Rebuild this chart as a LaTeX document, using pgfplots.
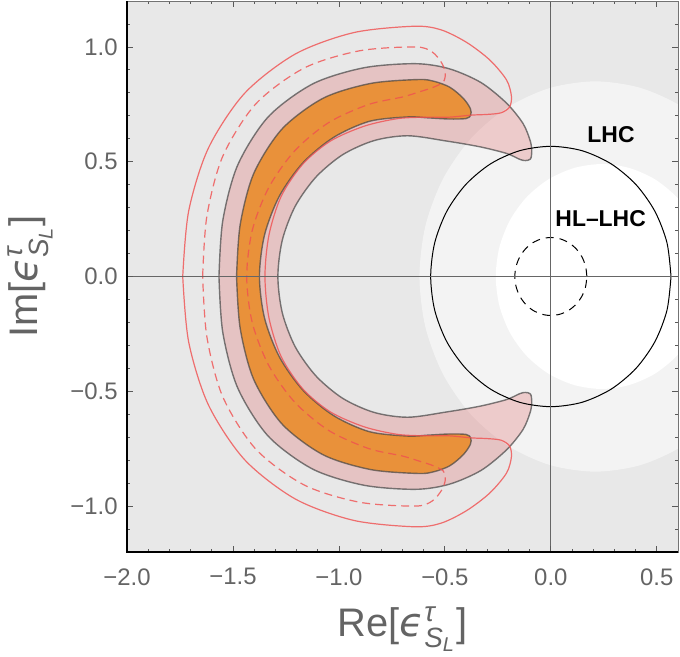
\documentclass[border=0pt]{standalone}
\usepackage{pgfplots}
\pgfplotsset{compat=1.18}
\usepackage{amsmath}
\usepackage{fontspec}
\setmainfont{Liberation Sans}
\newfontfamily\dejavu{DejaVu Sans}

\definecolor{bgout}{RGB}{232,232,232}
\definecolor{bgmid}{RGB}{243,243,243}
\definecolor{pinkband}{RGB}{225,112,112}
\definecolor{orangeband}{RGB}{233,145,58}
\definecolor{edge}{RGB}{70,70,70}
\definecolor{redline}{RGB}{240,80,80}
\definecolor{ticktext}{RGB}{100,100,100}

\newcommand{\eps}{{\dejavu\itshape ϵ}$^{\text{\itshape τ}}_{\text{\itshape S}_{\text{\itshape L}}}$}

\begin{document}
\begin{tikzpicture}
\begin{axis}[
  scale only axis,
  width=275.5bp, height=275.5bp,
  xmin=-2, xmax=0.6, ymin=-1.2, ymax=1.2,
  axis background/.style={fill=bgout},
  axis on top,
  axis line style={draw=black!55, line width=0.4bp},
  tick align=inside,
  major tick length=3bp, minor tick length=1.6bp,
  every tick/.style={draw=black!65, line width=0.4bp},
  xtick={-2,-1.5,-1,-0.5,0,0.5},
  xticklabels={−2.0,−1.5,−1.0,−0.5,0.0,0.5},
  ytick={-1,-0.5,0,0.5,1},
  yticklabels={−1.0,−0.5,0.0,0.5,1.0},
  minor xtick={-1.9,-1.8,-1.7,-1.6,-1.4,-1.3,-1.2,-1.1,-0.9,-0.8,-0.7,-0.6,-0.4,-0.3,-0.2,-0.1,0.1,0.2,0.3,0.4},
  minor ytick={-1.1,-0.9,-0.8,-0.7,-0.6,-0.4,-0.3,-0.2,-0.1,0.1,0.2,0.3,0.4,0.6,0.7,0.8,0.9,1.1},
  ticklabel style={font=\fontsize{12}{14}\selectfont, text=ticktext},
  xticklabel style={anchor=north, inner sep=0pt, yshift=-8bp},
  yticklabel style={anchor=east, inner sep=0pt, xshift=-4.5bp},
  xlabel={Re[\eps]},
  ylabel={Im[\eps]},
  every axis x label/.style={at={(axis description cs:0.5,-0.1525)}, anchor=base,
    font=\fontsize{20}{24}\selectfont, text=ticktext},
  every axis y label/.style={at={(axis description cs:-0.1633,0.5)}, rotate=90, anchor=base,
    font=\fontsize{20}{24}\selectfont, text=ticktext},
]

% lighter sensitivity zones around the origin
\addplot[fill=bgmid, draw=none, smooth] coordinates {
(1.04,0) (1.012,0.22) (0.929,0.425) (0.797,0.601) (0.625,0.736) (0.425,0.821) (0.21,0.85)
(-0.005,0.821) (-0.205,0.736) (-0.377,0.601) (-0.509,0.425) (-0.592,0.22) (-0.62,0)
(-0.592,-0.22) (-0.509,-0.425) (-0.377,-0.601) (-0.205,-0.736) (-0.005,-0.821) (0.21,-0.85)
(0.425,-0.821) (0.625,-0.736) (0.797,-0.601) (0.929,-0.425) (1.012,-0.22) (1.04,0)};
\addplot[fill=white, draw=none, smooth] coordinates {
(0.74,0) (0.723,0.127) (0.673,0.245) (0.594,0.346) (0.49,0.424) (0.369,0.473) (0.24,0.49)
(0.111,0.473) (-0.01,0.424) (-0.114,0.346) (-0.193,0.245) (-0.243,0.127) (-0.26,0)
(-0.243,-0.127) (-0.193,-0.245) (-0.114,-0.346) (-0.01,-0.424) (0.111,-0.473) (0.24,-0.49)
(0.369,-0.473) (0.49,-0.424) (0.594,-0.346) (0.673,-0.245) (0.723,-0.127) (0.74,0)};

% 2 sigma band
\addplot[fill=pinkband, fill opacity=0.3, draw=edge, draw opacity=0.7, line width=0.7bp, smooth] coordinates {
(-1.566,0) (-1.548,0.2435) (-1.478,0.4845) (-1.334,0.695) (-1.1235,0.839) (-0.883,0.909)
(-0.639,0.927) (-0.48,0.905) (-0.33,0.845) (-0.209,0.755) (-0.131,0.666) (-0.097,0.59)
(-0.090,0.545) (-0.096,0.512)
(-0.12,0.505) (-0.146,0.510) (-0.209,0.536) (-0.335,0.565) (-0.492,0.590) (-0.675,0.613)
(-0.834,0.592) (-0.9815,0.531) (-1.108,0.4335) (-1.206,0.3065) (-1.267,0.159) (-1.288,0)
(-1.267,-0.159) (-1.206,-0.3065) (-1.108,-0.4335) (-0.9815,-0.531) (-0.834,-0.592) (-0.675,-0.613)
(-0.492,-0.590) (-0.335,-0.565) (-0.209,-0.536) (-0.146,-0.510) (-0.12,-0.505)
(-0.096,-0.512) (-0.090,-0.545) (-0.097,-0.59) (-0.131,-0.666) (-0.209,-0.755) (-0.33,-0.845)
(-0.48,-0.905) (-0.639,-0.927) (-0.883,-0.909) (-1.1235,-0.839) (-1.334,-0.695) (-1.478,-0.4845)
(-1.548,-0.2435) (-1.566,0)};

% 1 sigma band
\addplot[fill=orangeband, draw=edge, draw opacity=0.7, line width=0.7bp, smooth] coordinates {
(-1.483,0) (-1.466,0.2254) (-1.402,0.4485) (-1.268,0.643) (-1.0735,0.777) (-0.850,0.841)
(-0.625,0.858) (-0.55,0.850) (-0.476,0.824) (-0.414,0.777) (-0.380,0.732) (-0.378,0.703)
(-0.40,0.688) (-0.48,0.686) (-0.58,0.691) (-0.675,0.695) (-0.856,0.676) (-1.025,0.606)
(-1.17,0.495) (-1.281,0.35) (-1.351,0.181) (-1.375,0)
(-1.351,-0.181) (-1.281,-0.35) (-1.17,-0.495) (-1.025,-0.606) (-0.856,-0.676) (-0.675,-0.695)
(-0.58,-0.691) (-0.48,-0.686) (-0.40,-0.688)
(-0.378,-0.703) (-0.380,-0.732) (-0.414,-0.777) (-0.476,-0.824) (-0.55,-0.850) (-0.625,-0.858)
(-0.850,-0.841) (-1.0735,-0.777) (-1.268,-0.643) (-1.402,-0.4485) (-1.466,-0.2254) (-1.483,0)};

% projected contours
\addplot[redline, draw opacity=0.8, line width=0.6bp, smooth] coordinates {
(-1.737,0) (-1.709,0.285) (-1.616,0.559) (-1.445,0.798) (-1.206,0.969) (-0.932,1.062)
(-0.647,1.09) (-0.52,1.075) (-0.398,1.02) (-0.288,0.943) (-0.209,0.856) (-0.186,0.785)
(-0.195,0.738)
(-0.235,0.713) (-0.30,0.706) (-0.374,0.703) (-0.48,0.694) (-0.58,0.694) (-0.72,0.688)
(-0.88,0.655) (-1.04,0.59) (-1.17,0.49) (-1.272,0.35) (-1.330,0.181) (-1.349,0)
(-1.330,-0.181) (-1.272,-0.35) (-1.17,-0.49) (-1.04,-0.59) (-0.88,-0.655) (-0.72,-0.688)
(-0.58,-0.694) (-0.48,-0.694) (-0.374,-0.703) (-0.30,-0.706) (-0.235,-0.713)
(-0.195,-0.738) (-0.186,-0.785) (-0.209,-0.856) (-0.288,-0.943) (-0.398,-1.02) (-0.52,-1.075)
(-0.647,-1.09) (-0.932,-1.062) (-1.206,-0.969) (-1.445,-0.798) (-1.616,-0.559) (-1.709,-0.285)
(-1.737,0)};
\addplot[redline, draw opacity=0.8, line width=0.6bp, dash pattern=on 4bp off 2.5bp, smooth] coordinates {
(-1.643,0) (-1.623,0.2635) (-1.548,0.524) (-1.392,0.752) (-1.164,0.908) (-0.9035,0.983)
(-0.64,1.0) (-0.56,0.978) (-0.515,0.93) (-0.498,0.885) (-0.508,0.847)
(-0.555,0.824) (-0.618,0.805) (-0.70,0.782) (-0.861,0.749) (-1.0475,0.671) (-1.208,0.548)
(-1.331,0.3875) (-1.409,0.2006) (-1.435,0)
(-1.409,-0.2006) (-1.331,-0.3875) (-1.208,-0.548) (-1.0475,-0.671) (-0.861,-0.749) (-0.70,-0.782)
(-0.618,-0.805) (-0.555,-0.824)
(-0.508,-0.847) (-0.498,-0.885) (-0.515,-0.93) (-0.56,-0.978) (-0.64,-1.0) (-0.9035,-0.983)
(-1.164,-0.908) (-1.392,-0.752) (-1.548,-0.524) (-1.623,-0.2635) (-1.643,0)};

% collider reach
\addplot[black, line width=0.5bp, smooth] coordinates {
(0.567,0) (0.548,0.147) (0.491,0.284) (0.401,0.401) (0.284,0.491) (0.147,0.548) (0,0.567)
(-0.147,0.548) (-0.284,0.491) (-0.401,0.401) (-0.491,0.284) (-0.548,0.147) (-0.567,0)
(-0.548,-0.147) (-0.491,-0.284) (-0.401,-0.401) (-0.284,-0.491) (-0.147,-0.548) (0,-0.567)
(0.147,-0.548) (0.284,-0.491) (0.401,-0.401) (0.491,-0.284) (0.548,-0.147) (0.567,0)};
\addplot[black, line width=0.5bp, dash pattern=on 4bp off 3bp, smooth] coordinates {
(0.17,0) (0.164,0.044) (0.147,0.085) (0.120,0.120) (0.085,0.147) (0.044,0.164) (0,0.17)
(-0.044,0.164) (-0.085,0.147) (-0.120,0.120) (-0.147,0.085) (-0.164,0.044) (-0.17,0)
(-0.164,-0.044) (-0.147,-0.085) (-0.120,-0.120) (-0.085,-0.147) (-0.044,-0.164) (0,-0.17)
(0.044,-0.164) (0.085,-0.147) (0.120,-0.120) (0.147,-0.085) (0.164,-0.044) (0.17,0)};

% coordinate axes
\addplot[black!60, line width=0.45bp] coordinates {(-2,0) (0.6,0)};
\addplot[black!60, line width=0.45bp] coordinates {(0,-1.2) (0,1.2)};

\node[font=\fontsize{11.5}{13}\selectfont\bfseries] at (axis cs:0.284,0.619) {LHC};
\node[font=\fontsize{11.5}{13}\selectfont\bfseries] at (axis cs:0.235,0.251) {HL--LHC};
\end{axis}
\draw[black, line width=1bp] (current axis.north west) -- (current axis.south west) -- (current axis.south east);
\pgfresetboundingbox
\path[use as bounding box] ([shift={(-63.5bp,-52.5bp)}]current axis.south west)
  rectangle ([shift={(1bp,0.5bp)}]current axis.north east);
\end{tikzpicture}
\end{document}
